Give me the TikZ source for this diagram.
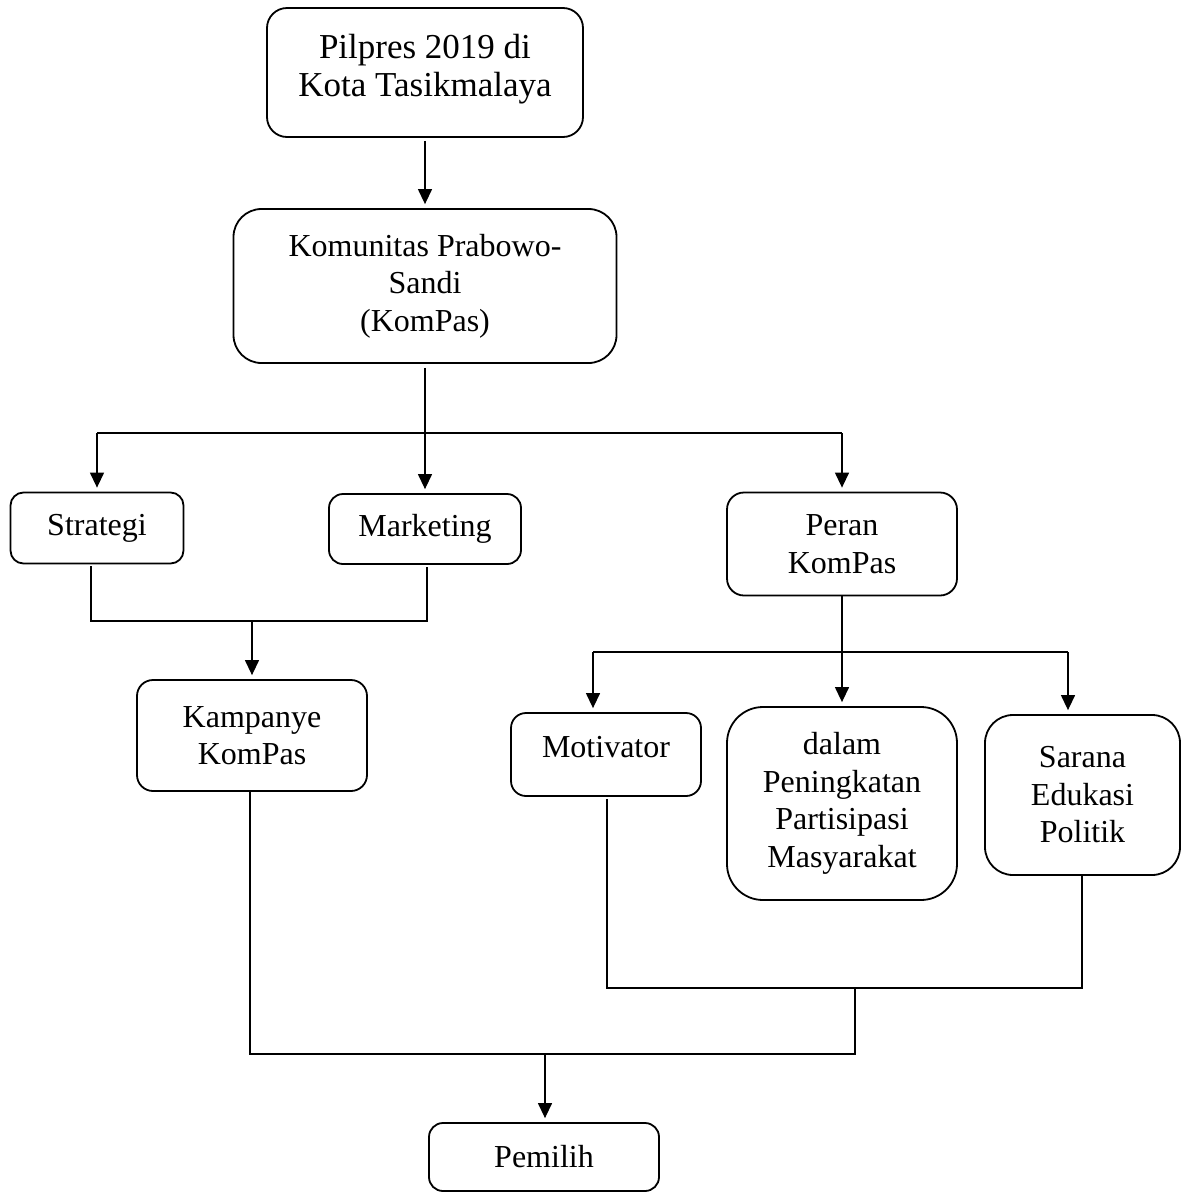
\documentclass[tikz,border=0pt]{standalone}
\usepackage{fontspec}
\setmainfont{Liberation Serif}
\usetikzlibrary{arrows.meta}
\tikzset{
  box/.style={draw, line width=1.8pt, rounded corners=#1, align=center, inner sep=0pt,
    font=\fontsize{32}{37.5}\selectfont},
  box/.default=15pt,
  ln/.style={line width=1.3pt},
  arr/.style={line width=1.3pt, -{Triangle[width=14pt,length=15pt]}, shorten >=4pt}
}
\begin{document}
\begin{tikzpicture}[x=1pt,y=-1pt]
\useasboundingbox (0,0) rectangle (1187,1192);
% boxes
\node[box=20pt, minimum width=316pt, minimum height=129pt, font=\fontsize{35}{38}\selectfont, text depth=14pt] (top) at (425,72.5) {Pilpres 2019 di\\Kota Tasikmalaya};
\node[box=28pt, minimum width=383pt, minimum height=154pt] (kompas) at (425,286) {Komunitas Prabowo-\\Sandi\\(KomPas)};
\node[box=13pt, minimum width=173pt, minimum height=71pt] (strat) at (97,528) {Strategi};
\node[box=14pt, minimum width=192pt, minimum height=70pt] (mark) at (425,529) {Marketing};
\node[box=17pt, minimum width=230pt, minimum height=103pt] (peran) at (842,544) {Peran\\KomPas};
\node[box=16pt, minimum width=230pt, minimum height=111pt] (kamp) at (252,735.5) {Kampanye\\KomPas};
\node[box=15pt, minimum width=190pt, minimum height=83pt, text depth=15pt] (motiv) at (606,754.5) {Motivator};
\node[box=36pt, minimum width=230pt, minimum height=193pt] (dalam) at (842,803.5) {dalam\\Peningkatan\\Partisipasi\\Masyarakat};
\node[box=28pt, minimum width=195pt, minimum height=160pt] (sarana) at (1082.5,795) {Sarana\\Edukasi\\Politik};
\node[box=14pt, minimum width=230pt, minimum height=68pt] (pemilih) at (544,1157) {Pemilih};
% junction coordinates
\coordinate (hL) at (97,433);
\coordinate (hM) at (425,433);
\coordinate (hR) at (842,433);
\coordinate (sL) at (91,621);
\coordinate (sR) at (427,621);
\coordinate (sM) at (252,621);
\coordinate (rL) at (593,652);
\coordinate (rM) at (842,652);
\coordinate (rR) at (1068,652);
\coordinate (mL) at (607,988);
\coordinate (mM) at (855,988);
\coordinate (mR) at (1082,988);
\coordinate (bL) at (250,1054);
\coordinate (bM) at (855,1054);
\coordinate (bA) at (545,1054);
% connectors
\draw[arr, shorten <=3pt] (top.south) -- (kompas.north);
\draw[ln, shorten <=4pt] (kompas.south) -- (hM);
\draw[ln] (hL) -- (hR);
\draw[arr] (hL) -- (strat.north);
\draw[arr] (hM) -- (mark.north);
\draw[arr] (hR) -- (peran.north);
\draw[ln, shorten <=2pt, shorten >=2pt] (strat.south -| sL) -- (sL) -- (sR) -- (mark.south -| sR);
\draw[arr] (sM) -- (kamp.north);
\draw[ln] (peran.south) -- (rM);
\draw[ln] (rL) -- (rR);
\draw[arr] (rL) -- (rL |- motiv.north);
\draw[arr] (rM) -- (dalam.north);
\draw[arr] (rR) -- (rR |- sarana.north);
\draw[ln, shorten <=2pt, shorten >=-1pt] (motiv.south -| mL) -- (mL) -- (mR) -- (sarana.south -| mR);
\draw[ln] (mM) -- (bM) -- (bL) -- (kamp.south -| bL);
\draw[arr] (bA) -- (pemilih.north -| bA);
\end{tikzpicture}
\end{document}
